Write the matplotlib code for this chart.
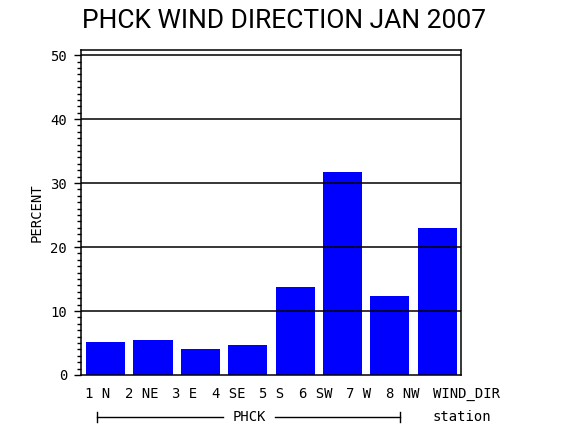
import numpy as np
import matplotlib
matplotlib.use('Agg')
import matplotlib.pyplot as plt
from matplotlib.ticker import MultipleLocator
from matplotlib.lines import Line2D

# wind direction frequency for PHCK, January 2007
directions = ['1 N', '2 NE', '3 E', '4 SE', '5 S', '6 SW', '7 W', '8 NW']
percent = [5.2, 5.5, 4.1, 4.7, 13.8, 31.7, 12.4, 22.9]
station = 'PHCK'
title = 'PHCK WIND DIRECTION JAN 2007'

mono = ['DejaVu Sans Mono']

fig = plt.figure(figsize=(5.7, 4.3), dpi=100)
ax = fig.add_axes([81 / 570, 1 - 375 / 430, 380 / 570, 325 / 430])

x = np.arange(len(directions))
ax.bar(x, percent, width=0.825, color='#0000ff', edgecolor='none', zorder=1)

ax.set_xlim(-0.52, 7.5)
ax.set_ylim(0, 50.8)

# horizontal reference lines at the major ticks
for y in range(10, 51, 10):
    ax.axhline(y, color='black', linewidth=1.1, zorder=2)

ax.yaxis.set_major_locator(MultipleLocator(10))
ax.yaxis.set_minor_locator(MultipleLocator(1))
ax.tick_params(axis='y', which='major', length=5, width=1, direction='out', pad=5)
ax.tick_params(axis='y', which='minor', length=3, width=1, direction='out')
for lab in ax.get_yticklabels():
    lab.set_family(mono)
    lab.set_fontsize(10)

# midpoint labels sit on their own spacing (as in the original output)
label_pos = np.arange(len(directions)) * 0.918 - 0.16
ax.set_xticks(label_pos, directions, family=mono, fontsize=10)
ax.tick_params(axis='x', length=0, pad=9)

ax.set_ylabel('PERCENT', family=mono, fontsize=10, labelpad=5)

for s in ax.spines.values():
    s.set_linewidth(1.1)

# axis-name labels to the right of the rows
fig.text(433 / 570, 1 - 394 / 430, 'WIND_DIR', family=mono, fontsize=10,
         ha='left', va='center')
fig.text(433 / 570, 1 - 417 / 430, 'station', family=mono, fontsize=10,
         ha='left', va='center')

# station group bracket
yb = 1 - 417 / 430
fig.add_artist(Line2D([97 / 570, 223 / 570], [yb, yb], color='black', lw=1))
fig.add_artist(Line2D([275 / 570, 400 / 570], [yb, yb], color='black', lw=1))
for xe in (97, 400):
    fig.add_artist(Line2D([xe / 570, xe / 570], [yb - 5 / 430, yb + 5 / 430],
                          color='black', lw=1))
fig.text(249 / 570, yb, station, family=mono, fontsize=10, ha='center', va='center')

fig.text(283.5 / 570, 1 - 21 / 430, title, family=['Roboto', 'DejaVu Sans'],
         fontsize=19, ha='center', va='center')

fig.savefig('out.png', dpi=100)
